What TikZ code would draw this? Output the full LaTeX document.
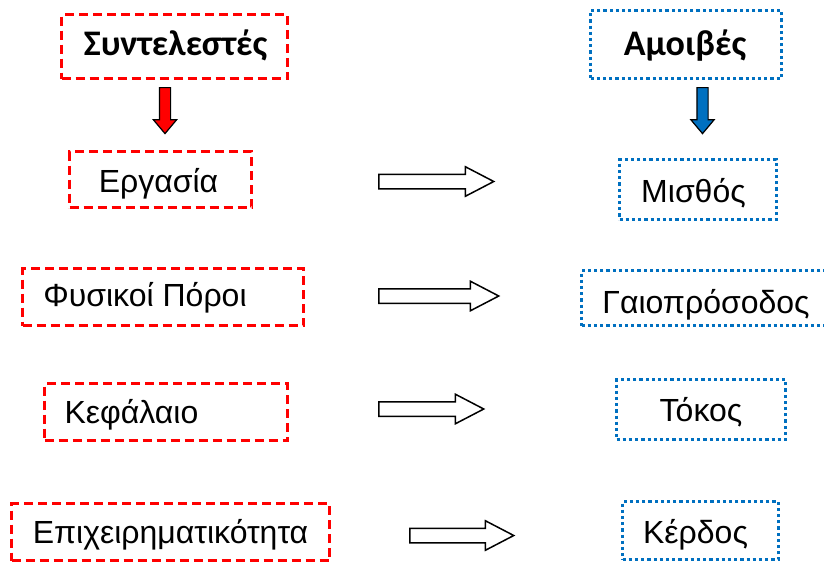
\documentclass[tikz,border=0pt]{standalone}
\usepackage{fontspec}
\setmainfont{Liberation Sans}
\newfontfamily\headfont{Carlito}
\usepackage{tikz}
\usetikzlibrary{shapes.arrows}
\definecolor{factorred}{HTML}{FF0000}
\definecolor{rewardblue}{HTML}{0070C0}

\begin{document}
\begin{tikzpicture}[
    x=1pt, y=-1pt,
    factor/.style={
        rectangle,
        draw=factorred,
        line width=3pt,
        dash pattern=on 9pt off 5pt,
        inner sep=0pt
    },
    reward/.style={
        rectangle,
        draw=rewardblue,
        line width=3.2pt,
        dash pattern=on 3.2pt off 3pt,
        inner sep=0pt
    },
    word/.style={
        anchor=base,
        inner sep=0pt,
        font=\fontsize{32}{36}\selectfont
    },
    heading/.style={
        anchor=base,
        inner sep=0pt,
        font=\fontsize{36}{40}\selectfont\headfont\bfseries
    },
    flow/.style={
        single arrow,
        anchor=tail,
        draw=black,
        fill=white,
        line width=1.5pt,
        inner xsep=0pt,
        inner ysep=6.5pt,
        single arrow head extend=7.5pt,
        single arrow tip angle=55
    },
    down/.style={
        single arrow,
        anchor=tail,
        draw=black,
        line width=1.2pt,
        rotate=-90,
        inner xsep=0pt,
        inner ysep=5pt,
        single arrow head extend=6pt,
        single arrow tip angle=80,
        minimum height=46pt
    }
]
    \useasboundingbox (0,0) rectangle (824,563);
    \clip (0,0) rectangle (824,563);

    % Headings
    \node[factor, minimum width=226pt, minimum height=64pt] (factors) at (174.5,46.5) {};
    \node[heading] (factors-txt) at (175.5,55) {Συντελεστές};
    \node[reward, minimum width=191pt, minimum height=68pt] (rewards) at (686,44.5) {};
    \node[heading] (rewards-txt) at (685,55) {Αμοιβές};

    % Down arrows
    \node[down, fill=factorred] (factors-arrow) at (165,87) {};
    \node[down, fill=rewardblue] (rewards-arrow) at (702.5,87) {};

    % Factors of production
    \node[factor, minimum width=182pt, minimum height=56pt] (labour) at (160.5,179.5) {};
    \node[word] (labour-txt) at (158.5,192) {Εργασία};
    \node[factor, minimum width=281pt, minimum height=57pt] (land) at (163,297) {};
    \node[word] (land-txt) at (145,306) {Φυσικοί Πόροι};
    \node[factor, minimum width=243pt, minimum height=57pt] (capital) at (166,412) {};
    \node[word] (capital-txt) at (131.5,423) {Κεφάλαιο};
    \node[factor, minimum width=318pt, minimum height=57pt] (enterprise) at (170.5,532) {};
    \node[word] (enterprise-txt) at (170.5,543) {Επιχειρηματικότητα};

    % Rewards
    \node[reward, minimum width=157pt, minimum height=60pt] (wage) at (698,189.5) {};
    \node[word] (wage-txt) at (693.5,202) {Μισθός};
    \node[reward, minimum width=250pt, minimum height=55pt] (rent) at (706.5,298) {};
    \node[word] (rent-txt) at (706,313) {Γαιοπρόσοδος};
    \node[reward, minimum width=169pt, minimum height=60pt] (interest) at (701,409.5) {};
    \node[word] (interest-txt) at (701,421) {Τόκος};
    \node[reward, minimum width=156pt, minimum height=58pt] (profit) at (700.5,530.5) {};
    \node[word] (profit-txt) at (695.5,543) {Κέρδος};

    % Block arrows
    \node[flow, minimum height=115pt] (to-wage) at (378,181.5) {};
    \node[flow, minimum height=120pt] (to-rent) at (378,296) {};
    \node[flow, minimum height=105pt] (to-interest) at (378,409) {};
    \node[flow, minimum height=104pt] (to-profit) at (409,535.5) {};
\end{tikzpicture}
\end{document}
